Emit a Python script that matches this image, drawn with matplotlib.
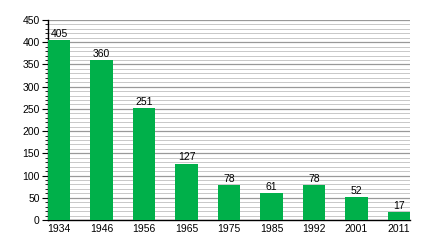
import matplotlib
matplotlib.use("Agg")
import matplotlib.pyplot as plt
from matplotlib.ticker import MultipleLocator

years = ["1934", "1946", "1956", "1965", "1975", "1985", "1992", "2001", "2011"]
values = [405, 360, 251, 127, 78, 61, 78, 52, 17]

plt.rcParams["font.family"] = ["Liberation Sans", "DejaVu Sans"]

fig = plt.figure(figsize=(4.4, 2.4), dpi=100)
ax = fig.add_axes([48 / 440, 20 / 240, 362 / 440, 200 / 240])

x = list(range(len(years)))
w = 0.52
ax.bar(x, values, width=w, color="#00B04A", zorder=3)
for xi, v in zip(x, values):
    ax.text(xi, v + 3, str(v), ha="center", va="bottom", fontsize=7.5, zorder=4)

ax.set_xlim(-w / 2, len(years) - 1 + w / 2)
ax.set_ylim(0, 450)
ax.yaxis.set_major_locator(MultipleLocator(50))
ax.yaxis.set_minor_locator(MultipleLocator(10))
ax.grid(which="major", axis="y", color="#999999", linewidth=0.9, zorder=0)
ax.grid(which="minor", axis="y", color="#c8c8c8", linewidth=0.7, zorder=0)
ax.set_xticks(x)
ax.set_xticklabels(years)

for s in ("top", "right"):
    ax.spines[s].set_visible(False)
ax.spines["left"].set_linewidth(1.0)
ax.spines["bottom"].set_linewidth(1.0)
ax.tick_params(axis="x", length=0, labelsize=7.5, pad=3)
ax.tick_params(axis="y", which="major", length=4, width=0.8, labelsize=7.5, pad=2)
ax.tick_params(axis="y", which="minor", length=2, width=0.6)

fig.savefig("out.png", dpi=100)
